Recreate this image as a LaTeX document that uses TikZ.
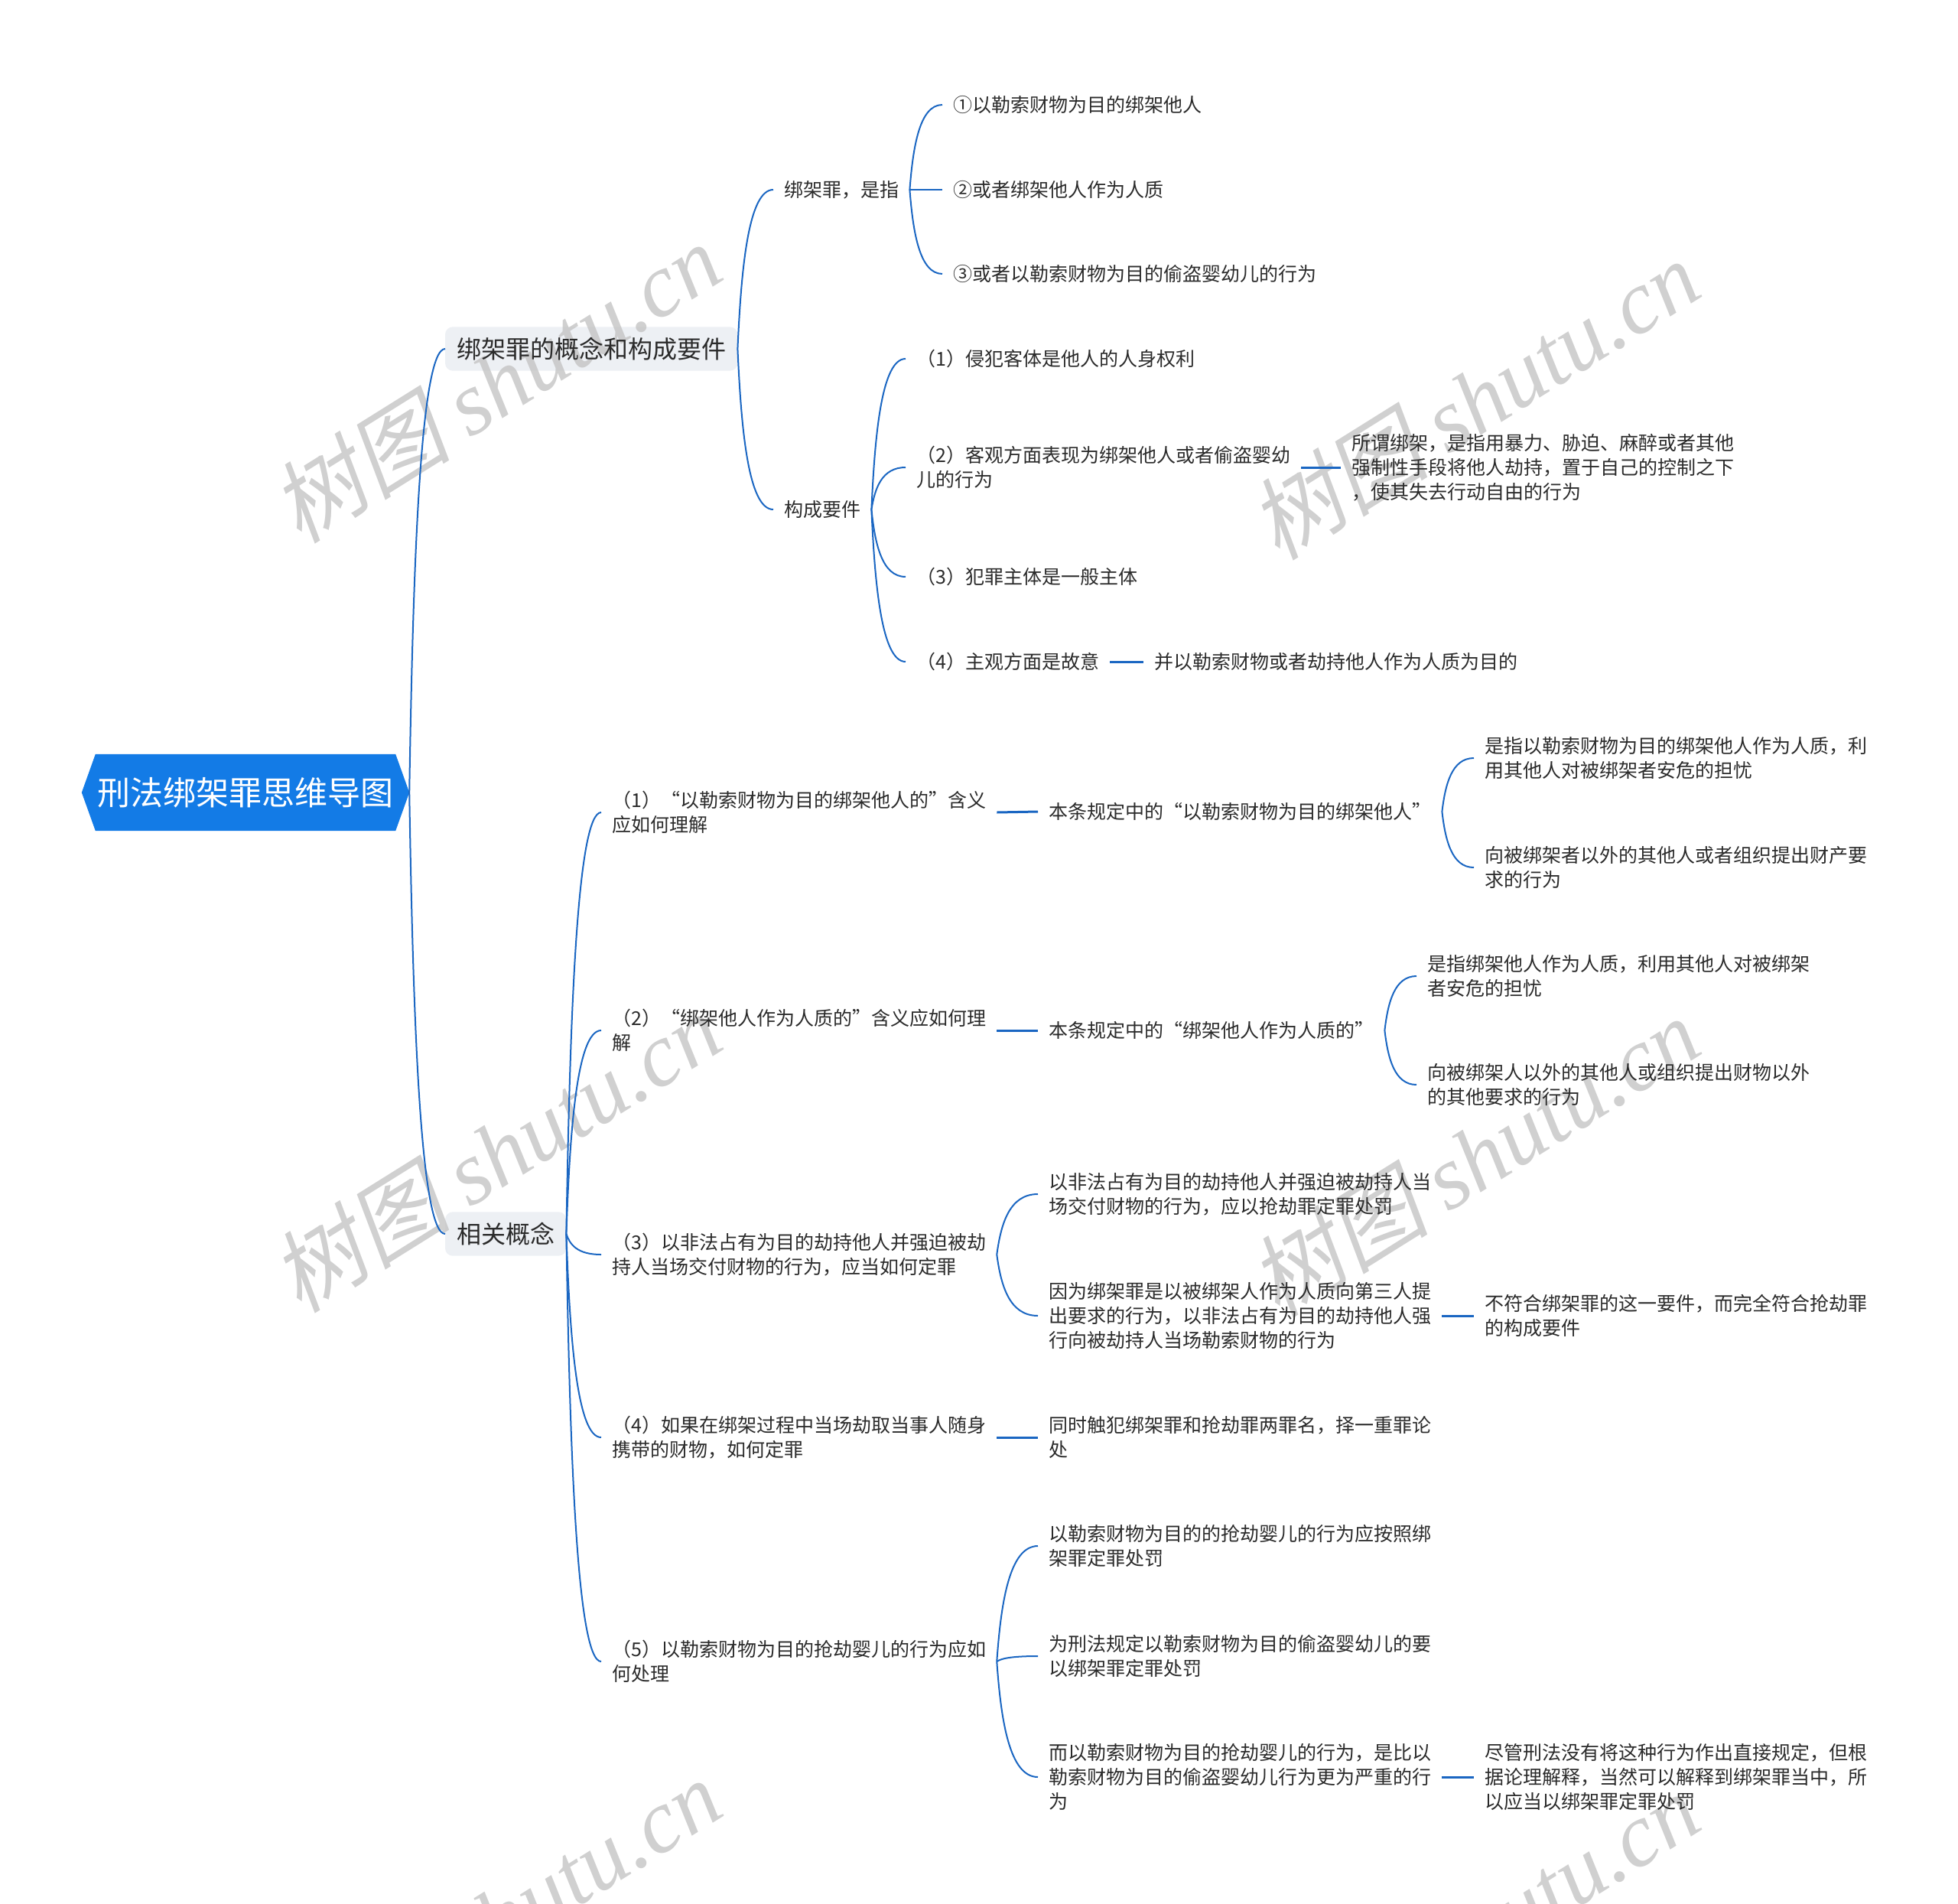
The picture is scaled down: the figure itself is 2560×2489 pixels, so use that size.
\documentclass[tikz,border=0pt]{standalone}
\usepackage{fontspec}
\setmainfont{Noto Sans CJK SC}
\newfontfamily\wmfont{Liberation Serif}
\newfontfamily\wmcjk[FakeSlant=0.2]{Noto Sans CJK SC}
\usetikzlibrary{calc,backgrounds}
\pgfdeclarelayer{wml}
\pgfsetlayers{background,wml,main}
\definecolor{lnblue}{HTML}{1A66C2}
\definecolor{rootblue}{HTML}{137BE6}
\definecolor{mainfill}{HTML}{EDF0F4}
\definecolor{txtc}{HTML}{2B2B2B}
\definecolor{wmc}{HTML}{C4C4C4}
\tikzset{
 conn/.style={to path={let \p1=(\tikztostart), \p2=(\tikztotarget) in .. controls ({\x1+0.1*(\x2-\x1)},{\y1+0.5*(\y2-\y1)}) and ({\x1+0.3*(\x2-\x1)},{\y2}) .. (\tikztotarget)}},
 cline/.style={draw=lnblue, line width=2pt},
 sline/.style={draw=lnblue, line width=3pt},
 tx/.style={anchor=west, align=left, inner xsep=14pt, inner ysep=2pt, text=txtc, font=\fontsize{25}{32}\selectfont},
 mainn/.style={anchor=west, inner xsep=15pt, inner ysep=0pt, minimum height=57pt, text=txtc, font=\fontsize{32}{38}\selectfont},
 mainbg/.style={fill=mainfill, rounded corners=10pt},
 rootn/.style={text=white, font=\fontsize{43}{50}\selectfont, minimum width=392pt, minimum height=100pt, inner sep=0pt},
 wm/.style={text=wmc, opacity=0.8, rotate=32, font=\fontsize{118}{130}\selectfont}
}
\begin{document}
\begin{tikzpicture}[x=1pt,y=-1pt]
\useasboundingbox (0,0) rectangle (2560,2489);
% root
\node[rootn] (root) at (321,1036) {刑法绑架罪思维导图};
\coordinate (rootR) at ($(root.east)+(18,0)$);
% main branches
\node[mainn] (m1) at (582,456) {绑架罪的概念和构成要件};
\node[mainn] (m2) at (582,1613) {相关概念};
\begin{pgfonlayer}{background}
\fill[rootblue] (root.north west) -- (root.north east) -- (rootR) -- (root.south east) -- (root.south west) -- ($(root.west)+(-18,0)$) -- cycle;
\path[mainbg] (m1.north west) rectangle (m1.south east);
\path[mainbg] (m2.north west) rectangle (m2.south east);
\end{pgfonlayer}
% branch 1
\node[tx] (a1) at (1011,248) {绑架罪，是指};
\node[tx] (a2) at (1011,666) {构成要件};
\node[tx] (a11) at (1232,137) {①以勒索财物为目的绑架他人};
\node[tx] (a12) at (1232,248) {②或者绑架他人作为人质};
\node[tx] (a13) at (1232,358) {③或者以勒索财物为目的偷盗婴幼儿的行为};
\node[tx] (a21) at (1184,469) {（1）侵犯客体是他人的人身权利};
\node[tx] (a22) at (1184,611) {（2）客观方面表现为绑架他人或者偷盗婴幼\\儿的行为};
\node[tx] (a23) at (1184,754) {（3）犯罪主体是一般主体};
\node[tx] (a24) at (1184,865) {（4）主观方面是故意};
\node[tx] (a22c) at (1753,611) {所谓绑架，是指用暴力、胁迫、麻醉或者其他\\强制性手段将他人劫持，置于自己的控制之下\\，使其失去行动自由的行为};
\node[tx] (a24c) at (1495,865) {并以勒索财物或者劫持他人作为人质为目的};
% branch 2
\node[tx] (b1) at (786,1062) {（1）“以勒索财物为目的绑架他人的”含义\\应如何理解};
\node[tx] (b2) at (786,1347) {（2）“绑架他人作为人质的”含义应如何理\\解};
\node[tx] (b3) at (786,1640) {（3）以非法占有为目的劫持他人并强迫被劫\\持人当场交付财物的行为，应当如何定罪};
\node[tx] (b4) at (786,1879) {（4）如果在绑架过程中当场劫取当事人随身\\携带的财物，如何定罪};
\node[tx] (b5) at (786,2172) {（5）以勒索财物为目的抢劫婴儿的行为应如\\何处理};
\node[tx] (b1c) at (1357,1061) {本条规定中的“以勒索财物为目的绑架他人”};
\node[tx] (b1c1) at (1927,991) {是指以勒索财物为目的绑架他人作为人质，利\\用其他人对被绑架者安危的担忧};
\node[tx] (b1c2) at (1927,1134) {向被绑架者以外的其他人或者组织提出财产要\\求的行为};
\node[tx] (b2c) at (1357,1347) {本条规定中的“绑架他人作为人质的”};
\node[tx] (b2c1) at (1852,1276) {是指绑架他人作为人质，利用其他人对被绑架\\者安危的担忧};
\node[tx] (b2c2) at (1852,1418) {向被绑架人以外的其他人或组织提出财物以外\\的其他要求的行为};
\node[tx] (b3c1) at (1357,1561) {以非法占有为目的劫持他人并强迫被劫持人当\\场交付财物的行为，应以抢劫罪定罪处罚};
\node[tx] (b3c2) at (1357,1720) {因为绑架罪是以被绑架人作为人质向第三人提\\出要求的行为，以非法占有为目的劫持他人强\\行向被劫持人当场勒索财物的行为};
\node[tx] (b3c2c) at (1927,1720) {不符合绑架罪的这一要件，而完全符合抢劫罪\\的构成要件};
\node[tx] (b4c) at (1357,1879) {同时触犯绑架罪和抢劫罪两罪名，择一重罪论\\处};
\node[tx] (b5c1) at (1357,2021) {以勒索财物为目的的抢劫婴儿的行为应按照绑\\架罪定罪处罚};
\node[tx] (b5c2) at (1357,2165) {为刑法规定以勒索财物为目的偷盗婴幼儿的要\\以绑架罪定罪处罚};
\node[tx] (b5c3) at (1357,2323) {而以勒索财物为目的抢劫婴儿的行为，是比以\\勒索财物为目的偷盗婴幼儿行为更为严重的行\\为};
\node[tx] (b5c3c) at (1927,2323) {尽管刑法没有将这种行为作出直接规定，但根\\据论理解释，当然可以解释到绑架罪当中，所\\以应当以绑架罪定罪处罚};
% connectors
\draw[cline] (rootR) to[conn] (m1.west);
\draw[cline] (rootR) to[conn] (m2.west);
\draw[cline] (m1.east) to[conn] (a1.west);
\draw[cline] (m1.east) to[conn] (a2.west);
\draw[cline] (a1.east) to[conn] (a11.west);
\draw[cline] (a1.east) to[conn] (a12.west);
\draw[cline] (a1.east) to[conn] (a13.west);
\draw[cline] (a2.east) to[conn] (a21.west);
\draw[cline] (a2.east) to[conn] (a22.west);
\draw[cline] (a2.east) to[conn] (a23.west);
\draw[cline] (a2.east) to[conn] (a24.west);
\draw[sline] (a22.east) -- (a22c.west);
\draw[sline] (a24.east) -- (a24c.west);
\draw[cline] (m2.east) to[conn] (b1.west);
\draw[cline] (m2.east) to[conn] (b2.west);
\draw[cline] (m2.east) to[conn] (b3.west);
\draw[cline] (m2.east) to[conn] (b4.west);
\draw[cline] (m2.east) to[conn] (b5.west);
\draw[sline] (b1.east) -- (b1c.west);
\draw[cline] (b1c.east) to[conn] (b1c1.west);
\draw[cline] (b1c.east) to[conn] (b1c2.west);
\draw[sline] (b2.east) -- (b2c.west);
\draw[cline] (b2c.east) to[conn] (b2c1.west);
\draw[cline] (b2c.east) to[conn] (b2c2.west);
\draw[cline] (b3.east) to[conn] (b3c1.west);
\draw[cline] (b3.east) to[conn] (b3c2.west);
\draw[sline] (b3c2.east) -- (b3c2c.west);
\draw[sline] (b4.east) -- (b4c.west);
\draw[cline] (b5.east) to[conn] (b5c1.west);
\draw[cline] (b5.east) to[conn] (b5c2.west);
\draw[cline] (b5.east) to[conn] (b5c3.west);
\draw[sline] (b5c3.east) -- (b5c3c.west);
% watermarks
\begin{pgfonlayer}{wml}
\foreach \wx/\wy [count=\i] in {648/500, 1927/522, 648/1506, 1927/1512, 648/2508, 1927/2526}{
  \node[wm] (wm\i) at (\wx,\wy) {{\wmcjk 树图} {\wmfont\itshape shutu.cn}};
}
\end{pgfonlayer}
\end{tikzpicture}
\end{document}
